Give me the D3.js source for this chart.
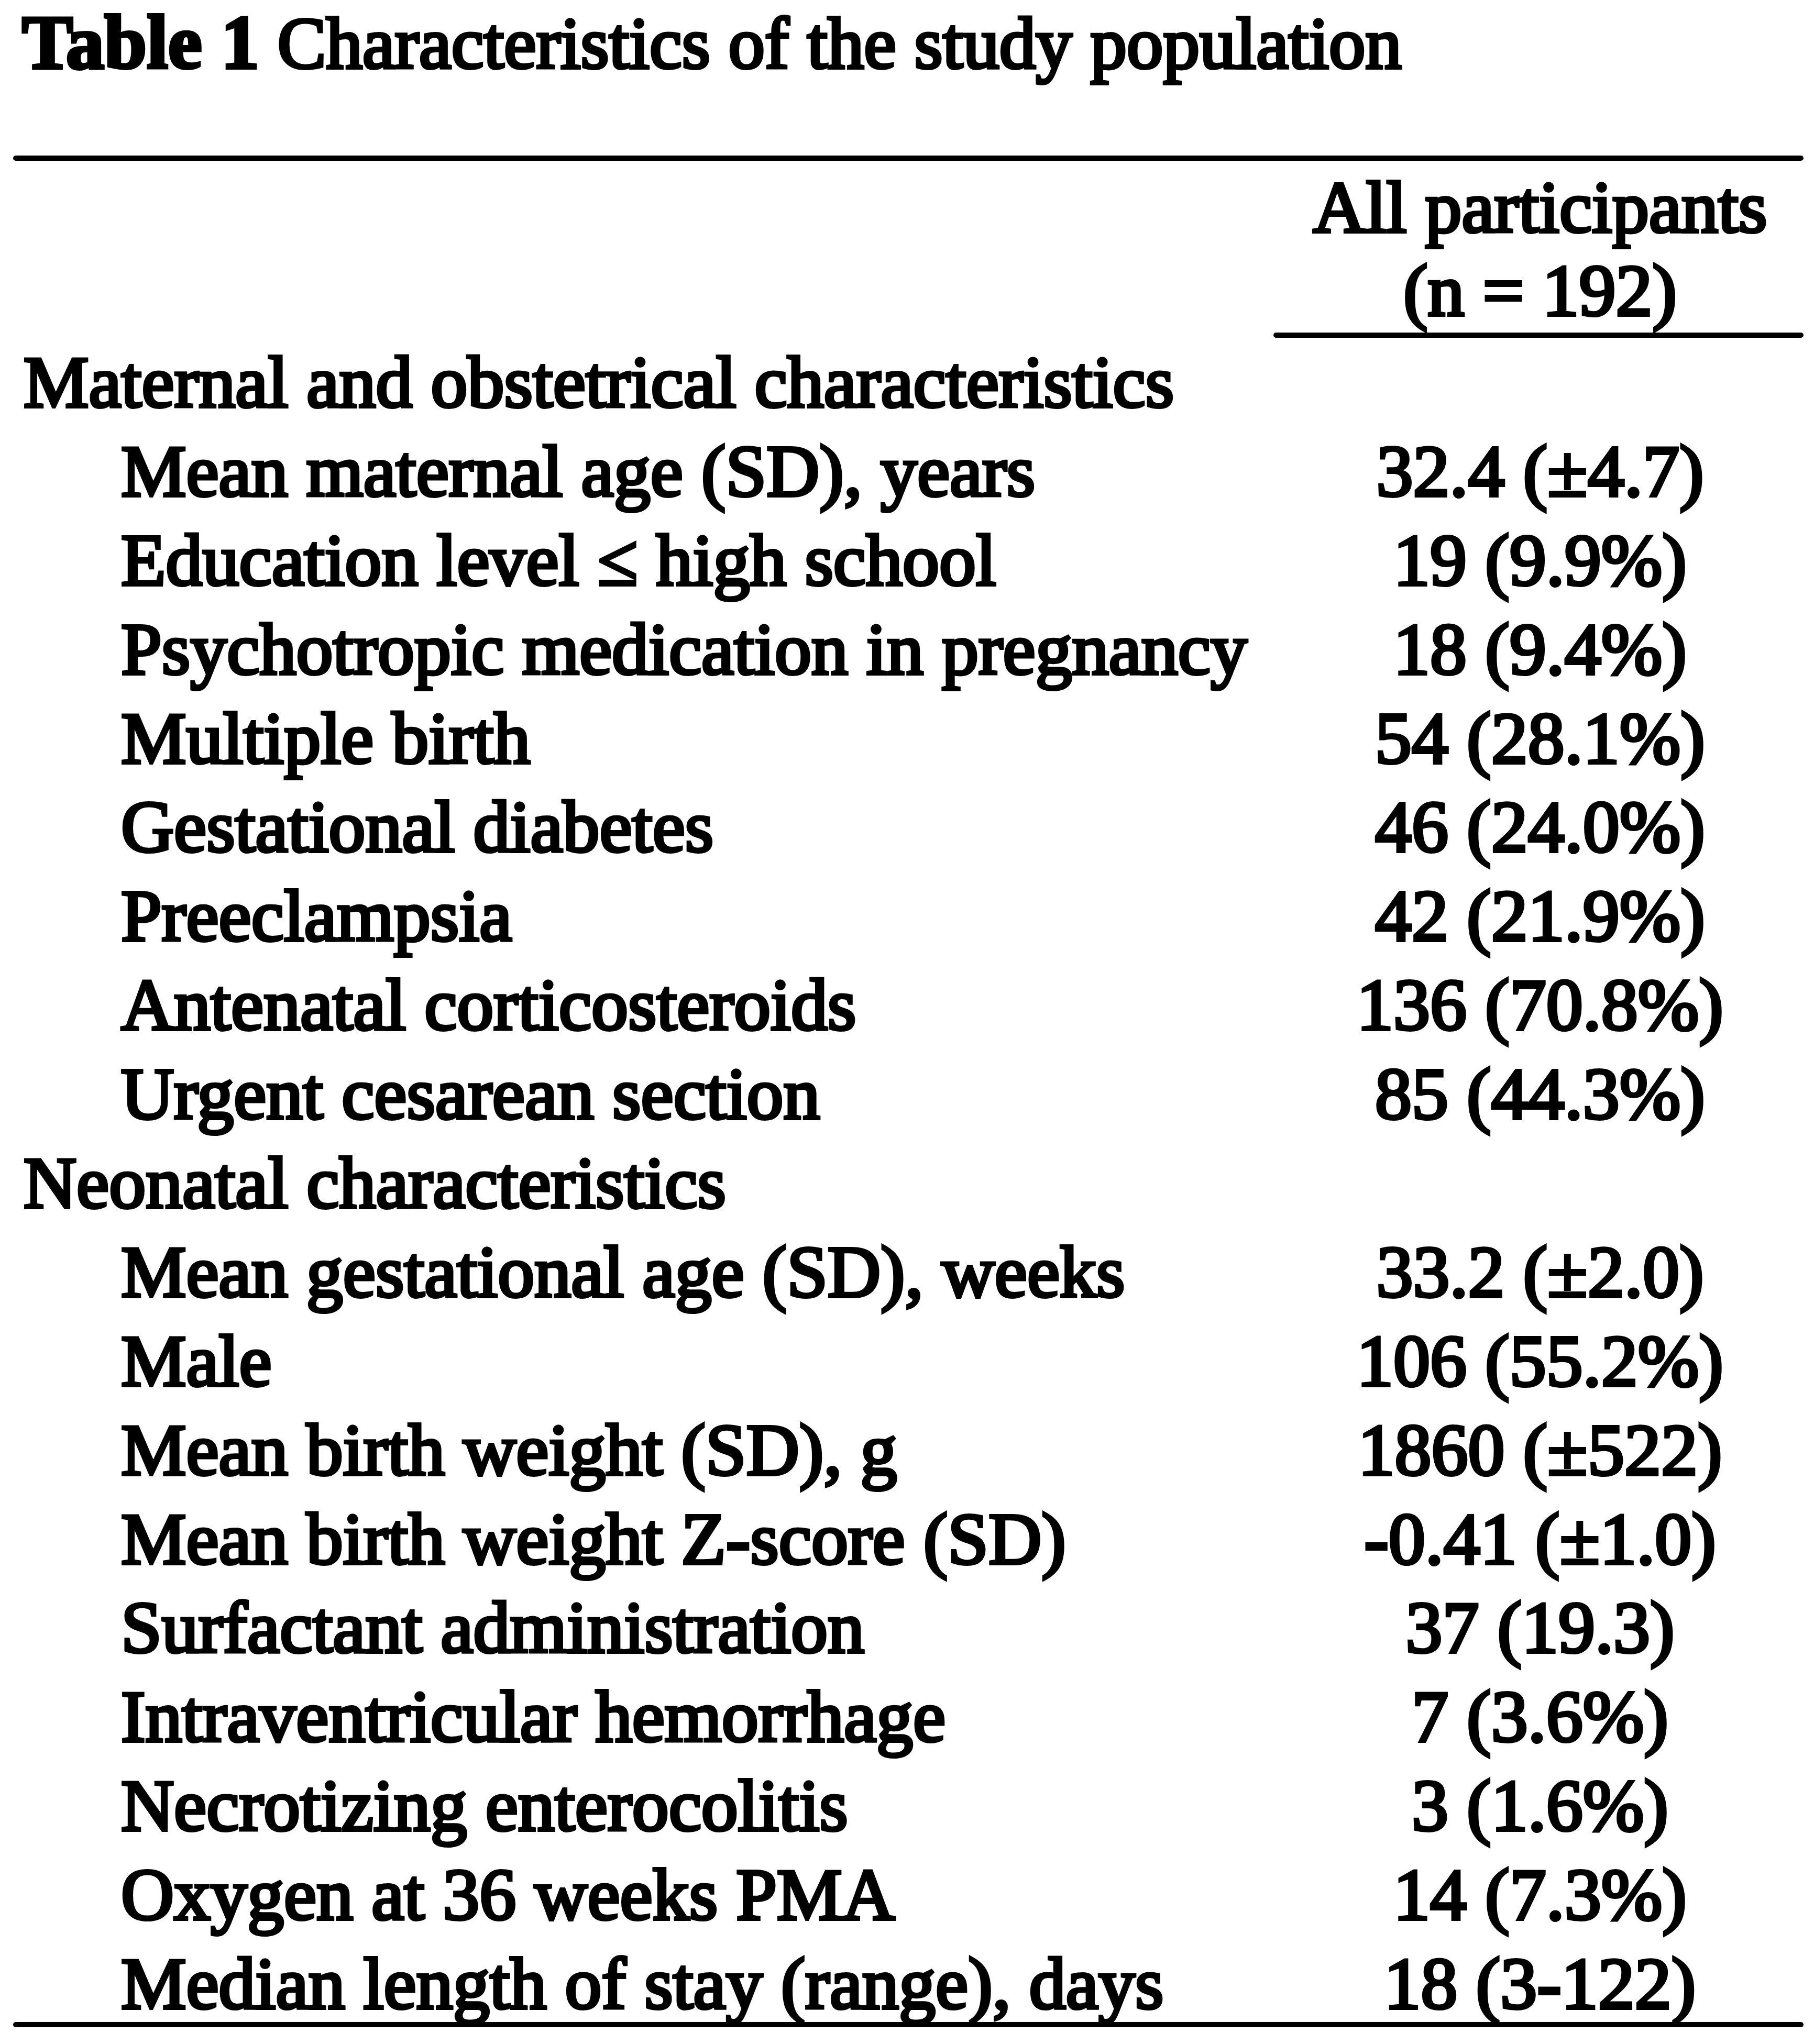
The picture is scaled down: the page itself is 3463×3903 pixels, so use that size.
<!DOCTYPE html>
<html>
<head>
<meta charset="utf-8">
<script src="https://cdn.jsdelivr.net/npm/d3@7"></script>
<style>
  html, body { margin: 0; padding: 0; background: #fff; }
  svg { display: block; }
</style>
</head>
<body>
<div id="chart"></div>
<script>
// ---- Data ----
const titleBold = "Table 1";
const titleRest = " Characteristics of the study population";
const columnHeader = ["All participants", "(n = 192)"];
const sectionLabels = ["Maternal and obstetrical characteristics", "Neonatal characteristics"];
const maternalLabels = [
  "Mean maternal age (SD), years",
  "Education level \u2264 high school",
  "Psychotropic medication in pregnancy",
  "Multiple birth",
  "Gestational diabetes",
  "Preeclampsia",
  "Antenatal corticosteroids",
  "Urgent cesarean section"
];
const maternalValues = [
  "32.4 (\u00b14.7)",
  "19 (9.9%)",
  "18 (9.4%)",
  "54 (28.1%)",
  "46 (24.0%)",
  "42 (21.9%)",
  "136 (70.8%)",
  "85 (44.3%)"
];
const neonatalLabels = [
  "Mean gestational age (SD), weeks",
  "Male",
  "Mean birth weight (SD), g",
  "Mean birth weight Z-score (SD)",
  "Surfactant administration",
  "Intraventricular hemorrhage",
  "Necrotizing enterocolitis",
  "Oxygen at 36 weeks PMA",
  "Median length of stay (range), days"
];
const neonatalValues = [
  "33.2 (\u00b12.0)",
  "106 (55.2%)",
  "1860 (\u00b1522)",
  "-0.41 (\u00b11.0)",
  "37 (19.3)",
  "7 (3.6%)",
  "3 (1.6%)",
  "14 (7.3%)",
  "18 (3-122)"
];

// ---- Build rows ----
const rows = [];
rows.push({ label: sectionLabels[0], value: "", section: true });
maternalLabels.forEach((l, i) => rows.push({ label: l, value: maternalValues[i], section: false }));
rows.push({ label: sectionLabels[1], value: "", section: true });
neonatalLabels.forEach((l, i) => rows.push({ label: l, value: neonatalValues[i], section: false }));

const W = 3463, H = 3903;
const font = "'Liberation Serif', 'Times New Roman', serif";
const fs = 140;
const thick = 6;

const svg = d3.select("#chart").append("svg")
  .attr("width", W).attr("height", H)
  .attr("viewBox", `0 0 ${W} ${H}`);
svg.append("rect").attr("width", W).attr("height", H).attr("fill", "#fff");

const y = d3.scaleLinear().domain([0, rows.length - 1]).range([777, 3835]);
const xSection = 45, xIndent = 231, xValue = 2940;
const tableLeft = 30, tableRight = 3438, headLeft = 2436;

// Title
const title = svg.append("text")
  .attr("x", 42).attr("y", 130)
  .attr("font-family", font).attr("font-size", 139)
  .attr("fill", "#000").attr("stroke", "#000").attr("stroke-width", thick);
title.append("tspan").attr("font-weight", "bold").attr("font-size", 146).text(titleBold);
title.append("tspan").text(titleRest);

// Rules
const rule = (x1, x2, yy) => svg.append("line")
  .attr("x1", x1).attr("x2", x2).attr("y1", yy).attr("y2", yy)
  .attr("stroke", "#000").attr("stroke-width", 10).attr("stroke-linecap", "round");
rule(tableLeft, tableRight, 302);
rule(headLeft, tableRight, 640);
rule(tableLeft, tableRight, 3866);

// Column header
svg.selectAll("text.head").data(columnHeader).join("text")
  .attr("class", "head")
  .attr("x", xValue)
  .attr("y", (d, i) => [443, 602][i])
  .attr("text-anchor", "middle")
  .attr("font-family", font).attr("font-size", fs)
  .attr("fill", "#000").attr("stroke", "#000").attr("stroke-width", thick)
  .text(d => d);

// Row labels
svg.selectAll("text.label").data(rows).join("text")
  .attr("class", "label")
  .attr("x", d => d.section ? xSection : xIndent)
  .attr("y", (d, i) => y(i))
  .attr("font-family", font).attr("font-size", fs)
  .attr("fill", "#000").attr("stroke", "#000").attr("stroke-width", thick)
  .text(d => d.label);

// Values
svg.selectAll("text.value").data(rows.filter(r => !r.section).map(r => ({ r, i: rows.indexOf(r) }))).join("text")
  .attr("class", "value")
  .attr("x", xValue)
  .attr("y", d => y(d.i))
  .attr("text-anchor", "middle")
  .attr("font-family", font).attr("font-size", fs)
  .attr("fill", "#000").attr("stroke", "#000").attr("stroke-width", thick)
  .text(d => d.r.value);
</script>
</body>
</html>
